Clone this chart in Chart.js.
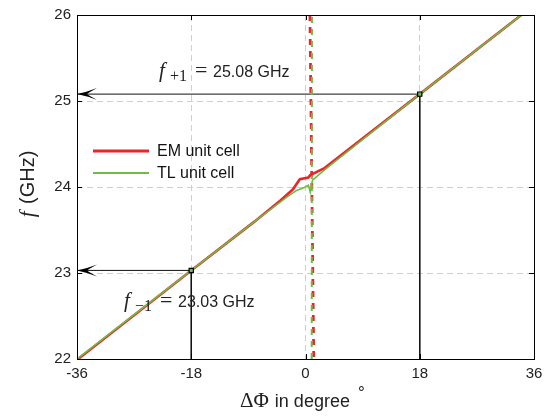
<!DOCTYPE html>
<html>
<head>
<meta charset="utf-8">
<script src="https://cdn.jsdelivr.net/npm/chart.js@4.4.1/dist/chart.umd.min.js"></script>
<style>
  html, body { margin: 0; padding: 0; background: #fff; }
  #wrap { width: 550px; height: 417px; }
</style>
</head>
<body>
<div id="wrap"><canvas id="myChart" width="550" height="417"></canvas></div>
<script>
// axis ticks
const xTicks = [-36, -18, 0, 18, 36];
const yTicks = [22, 23, 24, 25, 26];

// EM unit cell (solid branch + vertical dashed branch)
const emX = [-36, -18, -8, -4, -2, -0.9, 0.45, 0.75, 3, 18, 34];
const emF = [21.99, 23.03, 23.6, 23.84, 23.97, 24.09, 24.11, 24.14, 24.22, 25.08, 26.0];
const emDashX = [0.7, 0.85, 1.0, 1.15, 1.3];
const emDashF = [26, 25, 24, 23, 22];

// TL unit cell
const tlX = [-36, -18, -8, -3, -1.4, 0, 0.45, 0.75, 1.1, 3, 18, 34];
const tlF = [22.0, 23.03, 23.6, 23.88, 23.96, 24.0, 24.02, 23.94, 24.08, 24.2, 25.08, 26.0];
const tlDashX = [1.02, 1.0, 0.98];
const tlDashF = [26, 24, 22];

// marked frequencies
const markX = [-18, 18];
const markF = [23.03, 25.08];
const markSub = ['\u22121', '+1'];

const seriesNames = ['EM unit cell', 'TL unit cell'];
const red = '#e8262b';
const green = '#6bbd45';

function pts(xs, ys) { return xs.map((x, i) => ({ x: x, y: ys[i] })); }

const datasets = [
  { label: 'marks', data: pts(markX, markF), showLine: false, pointStyle: 'rect',
    pointRadius: 3, backgroundColor: green, borderColor: '#000', borderWidth: 1.2, order: 0 },
  { label: seriesNames[1], data: pts(tlX, tlF), borderColor: green, borderWidth: 1.6,
    pointRadius: 0, order: 1 },
  { label: seriesNames[0], data: pts(emX, emF), borderColor: red, borderWidth: 2.6,
    pointRadius: 0, order: 2 },
  { label: 'tl dash', data: pts(tlDashX, tlDashF), borderColor: green, borderWidth: 2,
    borderDash: [6, 6], borderDashOffset: -2, pointRadius: 0, order: 3 },
  { label: 'em dash', data: pts(emDashX, emDashF), borderColor: red, borderWidth: 2.8,
    borderDash: [6, 6], pointRadius: 0, order: 4 }
];
// reference lines from each mark to the left axis and down to the bottom
markX.forEach((x, i) => {
  datasets.push({ label: 'ref' + i,
    data: [{ x: xTicks[0], y: markF[i] }, { x: x, y: markF[i] }, { x: x, y: yTicks[0] }],
    borderColor: '#111', borderWidth: 1, pointRadius: 0, order: 5 });
});

const SANS = '"Liberation Sans", Arial, sans-serif';
const SERIF = '"Liberation Serif", "DejaVu Serif", serif';

const decor = {
  id: 'decor',
  afterDatasetsDraw(chart) {
    const ctx = chart.ctx;
    const a = chart.chartArea;
    const xs = chart.scales.x, ys = chart.scales.y;
    ctx.save();

    // arrowheads at the left axis
    markF.forEach(f => {
      const x0 = xs.getPixelForValue(xTicks[0]);
      const y = ys.getPixelForValue(f);
      ctx.fillStyle = '#000';
      ctx.beginPath();
      ctx.moveTo(x0, y);
      ctx.quadraticCurveTo(x0 + 10, y - 2, x0 + 20, y - 6);
      ctx.quadraticCurveTo(x0 + 11, y - 1, x0 + 10, y);
      ctx.quadraticCurveTo(x0 + 11, y + 1, x0 + 20, y + 6);
      ctx.quadraticCurveTo(x0 + 10, y + 2, x0, y);
      ctx.fill();
    });

    // frame and inward ticks
    ctx.strokeStyle = '#000';
    ctx.lineWidth = 1;
    ctx.strokeRect(Math.round(a.left) + 0.5, Math.round(a.top) + 0.5,
      Math.round(a.right - a.left), Math.round(a.bottom - a.top));
    ctx.beginPath();
    xTicks.forEach(v => {
      const px = Math.round(xs.getPixelForValue(v)) + 0.5;
      ctx.moveTo(px, a.bottom); ctx.lineTo(px, a.bottom - 5);
      ctx.moveTo(px, a.top); ctx.lineTo(px, a.top + 5);
    });
    yTicks.forEach(v => {
      const py = Math.round(ys.getPixelForValue(v)) + 0.5;
      ctx.moveTo(a.left, py); ctx.lineTo(a.left + 5, py);
      ctx.moveTo(a.right, py); ctx.lineTo(a.right - 5, py);
    });
    ctx.stroke();

    // annotations f_{±1} = ... GHz
    const annPos = [[124, 307], [159, 77]];
    markF.forEach((f, i) => {
      const x = annPos[i][0];
      const y = annPos[i][1];
      ctx.fillStyle = '#222';
      ctx.textBaseline = 'alphabetic';
      ctx.textAlign = 'left';
      ctx.font = 'italic 21px ' + SERIF;
      ctx.fillText('f', x, y);
      ctx.font = '16px ' + SERIF;
      ctx.fillText(markSub[i], x + 11, y + 4);
      ctx.font = '22px ' + SERIF;
      ctx.fillText('=', x + 36, y);
      ctx.font = '16px ' + SANS;
      ctx.fillText(f.toFixed(2) + ' GHz', x + 54, y);
    });

    // legend
    const leg = [[seriesNames[0], red, 3, 151], [seriesNames[1], green, 2, 173]];
    leg.forEach(l => {
      ctx.strokeStyle = l[1]; ctx.lineWidth = l[2];
      ctx.beginPath(); ctx.moveTo(93, l[3]); ctx.lineTo(149, l[3]); ctx.stroke();
      ctx.fillStyle = '#111'; ctx.font = '16px ' + SANS;
      ctx.textBaseline = 'middle';
      ctx.fillText(l[0], 157, l[3] + 1);
    });

    // x title
    ctx.textBaseline = 'alphabetic';
    let tx = 240;
    const ty = 407;
    ctx.fillStyle = '#222';
    ctx.font = '21px ' + SERIF;
    ctx.fillText('\u0394\u03a6', tx, ty); tx += ctx.measureText('\u0394\u03a6').width + 6;
    ctx.font = '18px ' + SANS;
    ctx.fillText('in degree', tx, ty); tx += ctx.measureText('in degree').width + 8;
    ctx.font = '17px ' + SANS;
    ctx.fillText('\u00b0', tx, ty - 9);

    // y title
    ctx.save();
    ctx.translate(34, 185);
    ctx.rotate(-Math.PI / 2);
    ctx.textAlign = 'left';
    ctx.font = 'italic 21px ' + SERIF;
    const fw = ctx.measureText('f').width;
    ctx.font = '20px ' + SANS;
    const gw = ctx.measureText(' (GHz)').width;
    let sx = -(fw + gw) / 2;
    ctx.font = 'italic 21px ' + SERIF;
    ctx.fillText('f', sx, 0);
    ctx.font = '20px ' + SANS;
    ctx.fillText(' (GHz)', sx + fw + 2, 0);
    ctx.restore();

    ctx.restore();
  }
};

const gridColor = (lo, hi) => c => (c.tick && (c.tick.value === lo || c.tick.value === hi)) ? 'rgba(0,0,0,0)' : '#cfcfcf';

new Chart(document.getElementById('myChart').getContext('2d'), {
  type: 'line',
  data: { datasets: datasets },
  options: {
    responsive: false,
    animation: false,
    layout: { padding: { top: 12, right: 16, left: 0, bottom: 0 } },
    plugins: { legend: { display: false }, tooltip: { enabled: false } },
    elements: { line: { tension: 0 } },
    scales: {
      x: {
        type: 'linear', min: xTicks[0], max: xTicks[xTicks.length - 1],
        afterBuildTicks: s => { s.ticks = xTicks.map(v => ({ value: v })); },
        afterFit: s => { s.height = 58; },
        ticks: { font: { family: SANS, size: 15 }, color: '#222', padding: 6, maxRotation: 0 },
        grid: { color: gridColor(xTicks[0], xTicks[xTicks.length - 1]), drawTicks: false, lineWidth: 1 },
        border: { display: false, dash: [6, 4] }
      },
      y: {
        type: 'linear', min: yTicks[0], max: yTicks[yTicks.length - 1],
        afterBuildTicks: s => { s.ticks = yTicks.map(v => ({ value: v })); },
        afterFit: s => { s.width = 77; },
        ticks: { font: { family: SANS, size: 15 }, color: '#222', padding: 6 },
        grid: { color: gridColor(yTicks[0], yTicks[yTicks.length - 1]), drawTicks: false, lineWidth: 1 },
        border: { display: false, dash: [6, 4] }
      }
    }
  },
  plugins: [decor]
});
</script>
</body>
</html>
